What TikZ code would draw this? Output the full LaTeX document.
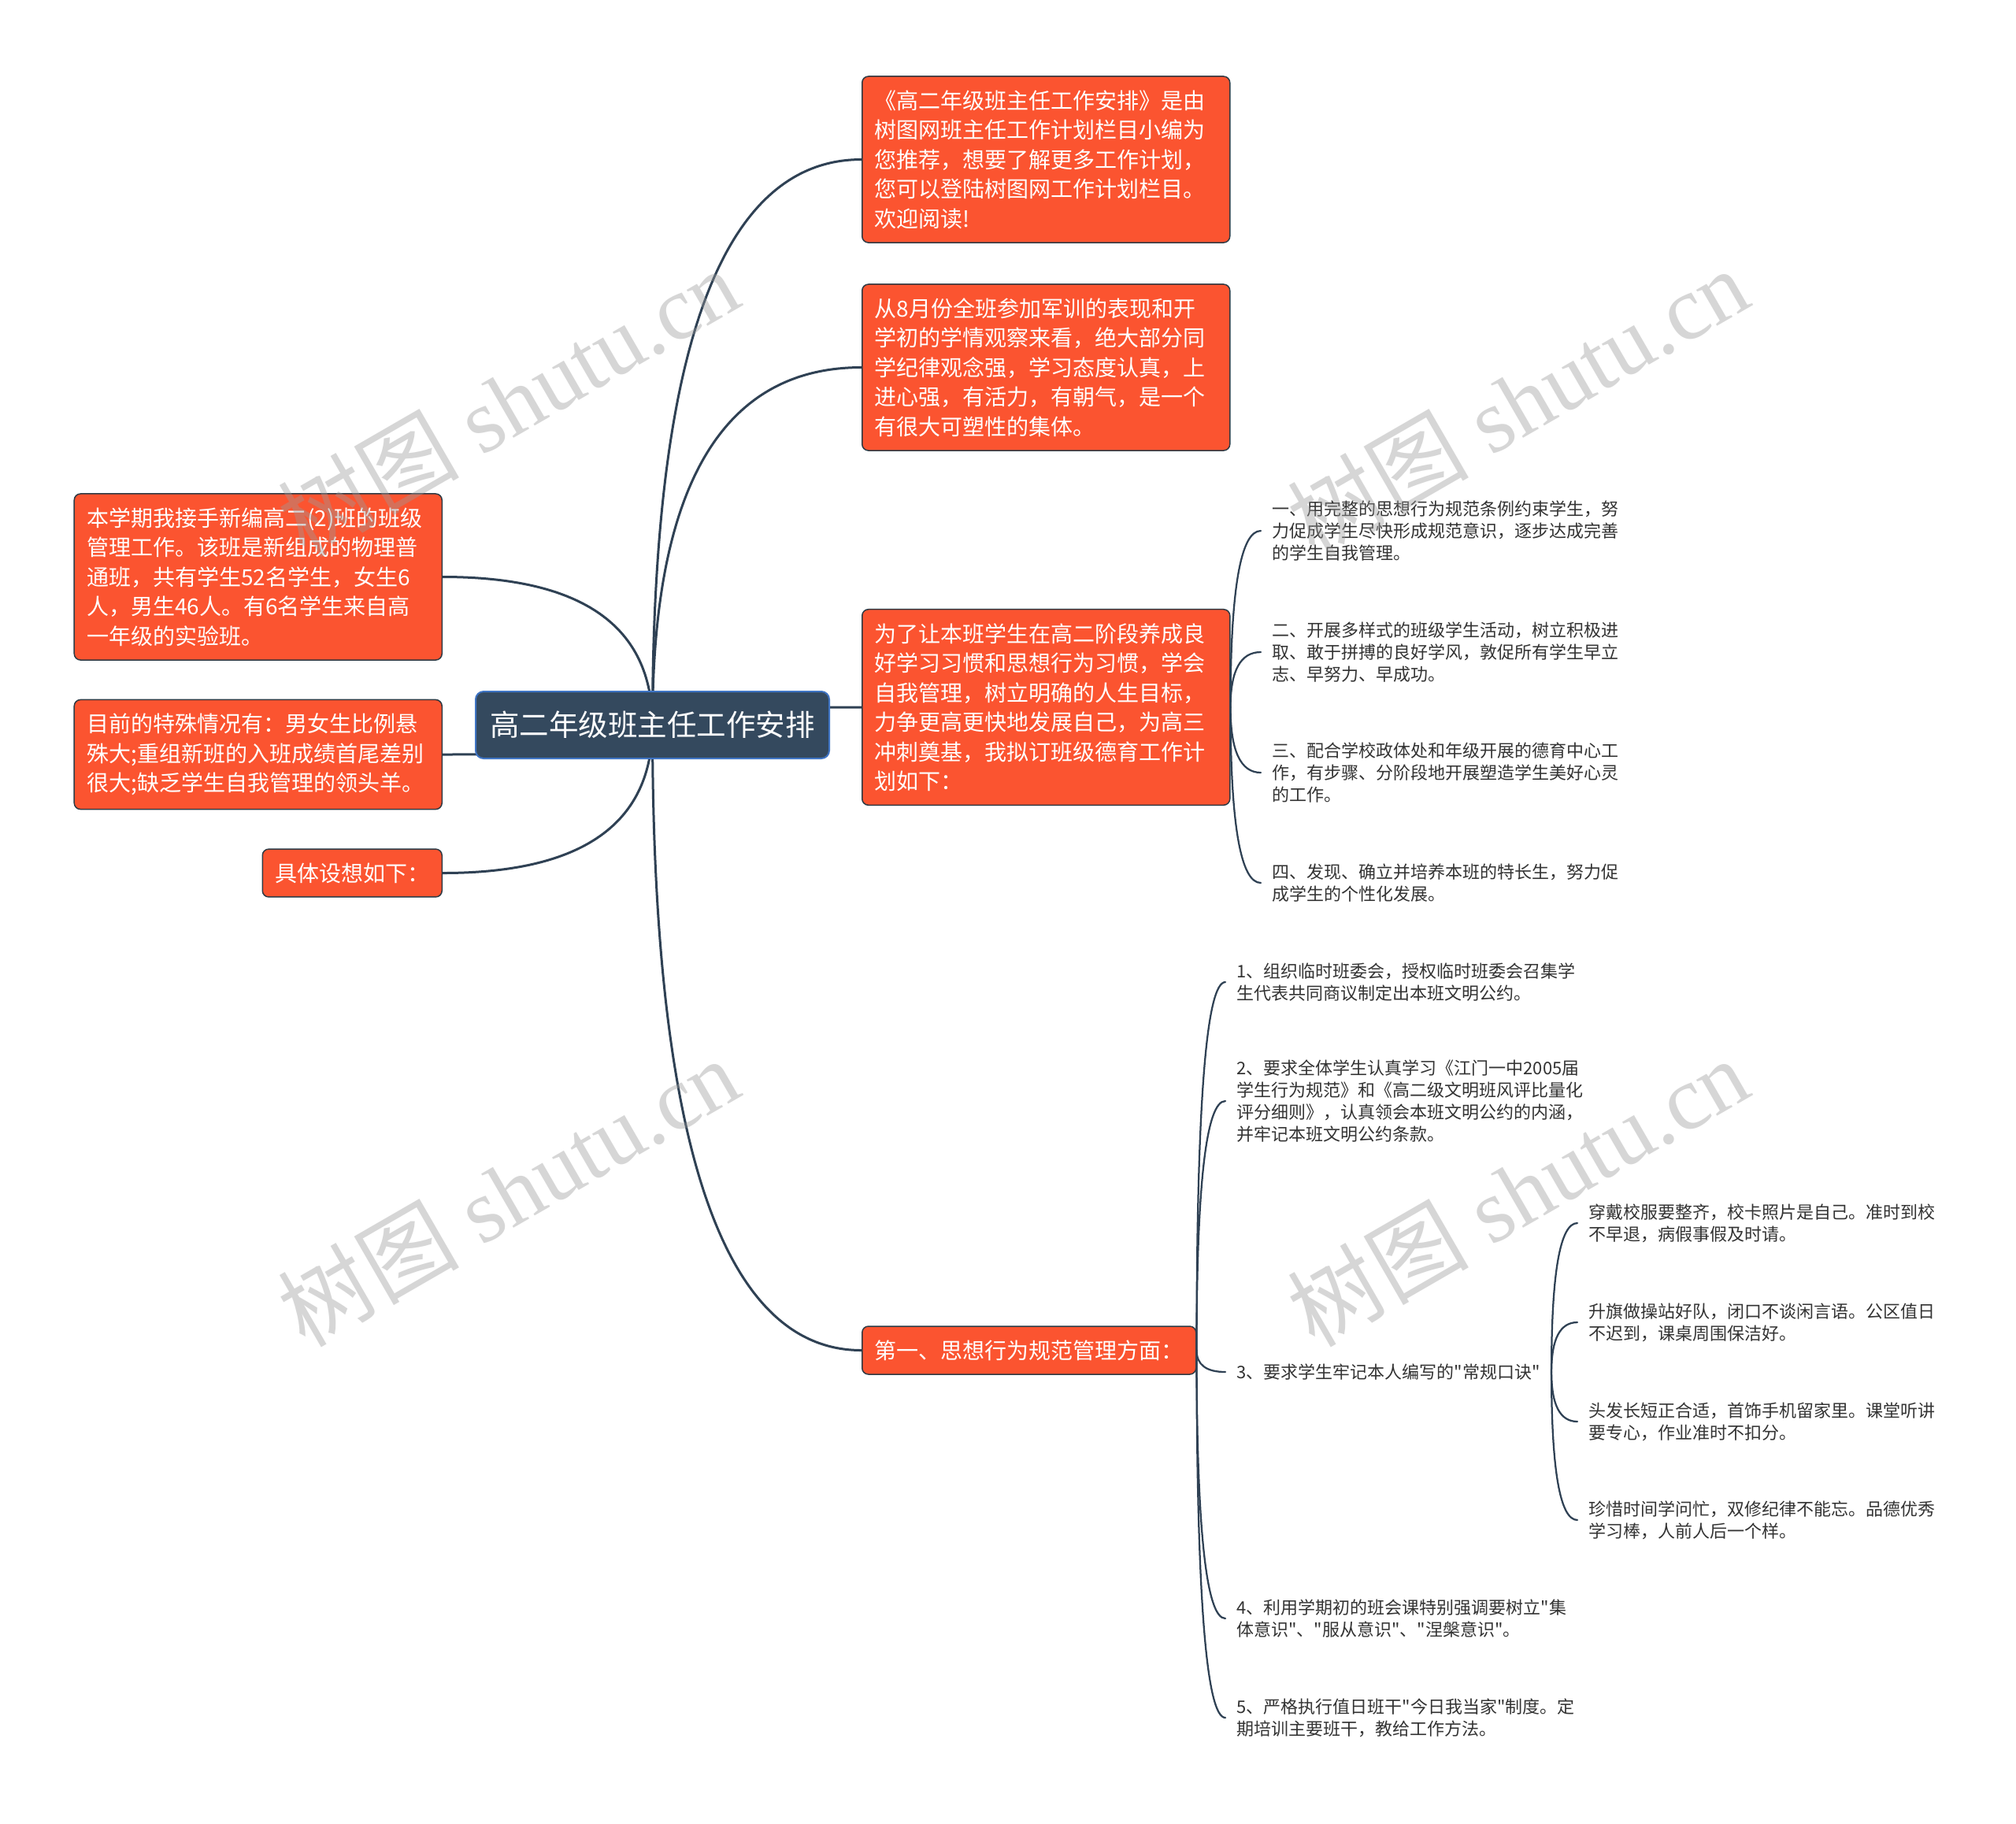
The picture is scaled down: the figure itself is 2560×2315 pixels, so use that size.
\documentclass[tikz,border=0pt]{standalone}
\usepackage{fontspec}
\setmainfont{Liberation Serif}
\newfontfamily\cjk{Noto Sans CJK SC}
\usetikzlibrary{calc, backgrounds}
\definecolor{mmbg}{HTML}{FFFFFF}
\definecolor{mmroot}{HTML}{34495E}
\definecolor{mmrootline}{HTML}{3F74C4}
\definecolor{mmorange}{HTML}{FB5430}
\definecolor{mmedge}{HTML}{2E3A44}
\definecolor{mmline}{HTML}{2F4154}
\definecolor{mmtext}{HTML}{333333}
\definecolor{mmmark}{HTML}{9A9A9A}
\tikzset{
  rootbox/.style={rectangle, rounded corners=4pt, draw=mmrootline, line width=0.8pt, fill=mmroot,
              text=white, font=\cjk\fontsize{15}{18}\selectfont, minimum width=179.6pt,
              minimum height=34pt, inner sep=0pt},
  topic/.style={rectangle, rounded corners=3.2pt, draw=mmedge, line width=0.6pt, fill=mmorange,
              text=white, font=\cjk\fontsize{11.2}{15}\selectfont, align=left,
              inner xsep=6.4pt, inner ysep=7pt},
  wide/.style={text width=174pt},
  leaf/.style={text=mmtext, font=\cjk\fontsize{8.8}{11.1}\selectfont, align=left,
              inner xsep=5.6pt, inner ysep=2pt},
  branch/.style={draw=mmline, line width=1.2pt, line cap=round,
              to path={.. controls ($(\tikztostart)!0.667!(\tikztostart|-\tikztotarget)$)
                and ($(\tikztotarget)!0.667!(\tikztostart|-\tikztotarget)$) .. (\tikztotarget)}},
  twig/.style={branch, line width=0.9pt},
  wmark/.style={text=mmmark, opacity=0.4, rotate=30, font=\fontsize{46}{46}\selectfont},
}

\begin{document}
\begin{tikzpicture}[x=0.4pt, y=-0.4pt]
    \useasboundingbox (0,0) rectangle (2560,2315);
    % centre topic
    \node[rootbox] (root) at (828.5,920.5) {高二年级班主任工作安排};
    % right side
    \node[topic, wide, anchor=west] (intro) at (1094,202.5)
      {《高二年级班主任工作安排》是由\\树图网班主任工作计划栏目小编为\\您推荐，想要了解更多工作计划，\\您可以登陆树图网工作计划栏目。\\欢迎阅读!};
    \node[topic, wide, anchor=west] (summary) at (1094,466.5)
      {从8月份全班参加军训的表现和开\\学初的学情观察来看，绝大部分同\\学纪律观念强，学习态度认真，上\\进心强，有活力，有朝气，是一个\\有很大可塑性的集体。};
    \node[topic, wide, anchor=west] (goal) at (1094,898)
      {为了让本班学生在高二阶段养成良\\好学习习惯和思想行为习惯，学会\\自我管理，树立明确的人生目标，\\力争更高更快地发展自己，为高三\\冲刺奠基，我拟订班级德育工作计\\划如下：};
    \node[topic, anchor=west] (first) at (1094,1714.5) {第一、思想行为规范管理方面：};
    % left side
    \node[topic, wide, anchor=east] (klass) at (562,732.5)
      {本学期我接手新编高二(2)班的班级\\管理工作。该班是新组成的物理普\\通班，共有学生52名学生，女生6\\人，男生46人。有6名学生来自高\\一年级的实验班。};
    \node[topic, wide, anchor=east] (issue) at (562,958)
      {目前的特殊情况有：男女生比例悬\\殊大;重组新班的入班成绩首尾差别\\很大;缺乏学生自我管理的领头羊。};
    \node[topic, anchor=east] (plan) at (562,1108.5) {具体设想如下：};
    % work plan items
    \node[leaf, anchor=west] (goal1) at (1601,674)
      {一、用完整的思想行为规范条例约束学生，努\\力促成学生尽快形成规范意识，逐步达成完善\\的学生自我管理。};
    \node[leaf, anchor=west] (goal2) at (1601,828)
      {二、开展多样式的班级学生活动，树立积极进\\取、敢于拼搏的良好学风，敦促所有学生早立\\志、早努力、早成功。};
    \node[leaf, anchor=west] (goal3) at (1601,981)
      {三、配合学校政体处和年级开展的德育中心工\\作，有步骤、分阶段地开展塑造学生美好心灵\\的工作。};
    \node[leaf, anchor=west] (goal4) at (1601,1121)
      {四、发现、确立并培养本班的特长生，努力促\\成学生的个性化发展。};
    % behaviour rules
    \node[leaf, anchor=west] (rule1) at (1556,1247)
      {1、组织临时班委会，授权临时班委会召集学\\生代表共同商议制定出本班文明公约。};
    \node[leaf, anchor=west] (rule2) at (1556,1398)
      {2、要求全体学生认真学习《江门一中2005届\\学生行为规范》和《高二级文明班风评比量化\\评分细则》，认真领会本班文明公约的内涵，\\并牢记本班文明公约条款。};
    \node[leaf, anchor=west] (rule3) at (1556,1742) {3、要求学生牢记本人编写的"常规口诀"};
    \node[leaf, anchor=west] (rule4) at (1556,2055)
      {4、利用学期初的班会课特别强调要树立"集\\体意识"、"服从意识"、"涅槃意识"。};
    \node[leaf, anchor=west] (rule5) at (1556,2181)
      {5、严格执行值日班干"今日我当家"制度。定\\期培训主要班干，教给工作方法。};
    % chant lines
    \node[leaf, anchor=west] (chant1) at (2003,1553)
      {穿戴校服要整齐，校卡照片是自己。准时到校\\不早退，病假事假及时请。};
    \node[leaf, anchor=west] (chant2) at (2003,1679)
      {升旗做操站好队，闭口不谈闲言语。公区值日\\不迟到，课桌周围保洁好。};
    \node[leaf, anchor=west] (chant3) at (2003,1805)
      {头发长短正合适，首饰手机留家里。课堂听讲\\要专心，作业准时不扣分。};
    \node[leaf, anchor=west] (chant4) at (2003,1930)
      {珍惜时间学问忙，双修纪律不能忘。品德优秀\\学习棒，人前人后一个样。};
    \begin{scope}[on background layer]
      \fill[mmbg] (0,0) rectangle (2560,2315);
      \draw[branch] (root.center) to (intro.west);
      \draw[branch] (root.center) to (summary.west);
      \draw[branch] (root.center) to (goal.west);
      \draw[branch] (root.center) to (first.west);
      \draw[branch] (root.center) to (klass.east);
      \draw[branch] (root.center) to (issue.east);
      \draw[branch] (root.center) to (plan.east);
    \end{scope}
    \draw[twig] (goal.east) to (goal1.west);
    \draw[twig] (goal.east) to (goal2.west);
    \draw[twig] (goal.east) to (goal3.west);
    \draw[twig] (goal.east) to (goal4.west);
    \draw[twig] (first.east) to (rule1.west);
    \draw[twig] (first.east) to (rule2.west);
    \draw[twig] (first.east) to (rule3.west);
    \draw[twig] (first.east) to (rule4.west);
    \draw[twig] (first.east) to (rule5.west);
    \draw[twig] (rule3.east) to (chant1.west);
    \draw[twig] (rule3.east) to (chant2.west);
    \draw[twig] (rule3.east) to (chant3.west);
    \draw[twig] (rule3.east) to (chant4.west);
    % watermarks
    \node[wmark] (wm1) at (645,510) {{\cjk 树图} shutu.cn};
    \node[wmark] (wm2) at (1927,510) {{\cjk 树图} shutu.cn};
    \node[wmark] (wm3) at (645,1513) {{\cjk 树图} shutu.cn};
    \node[wmark] (wm4) at (1927,1513) {{\cjk 树图} shutu.cn};
  \end{tikzpicture}
\end{document}
